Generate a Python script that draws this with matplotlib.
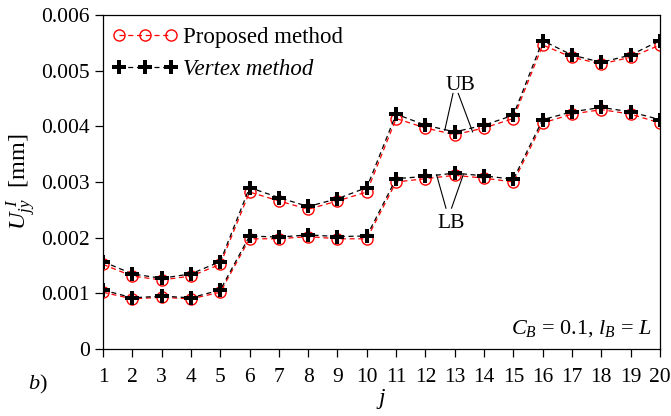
import numpy as np
import matplotlib
matplotlib.use('Agg')
import matplotlib.pyplot as plt

plt.rcParams['font.family'] = ['Liberation Serif', 'DejaVu Serif']
plt.rcParams['mathtext.fontset'] = 'custom'
plt.rcParams['mathtext.rm'] = 'Liberation Serif'
plt.rcParams['mathtext.it'] = 'Liberation Serif:italic'
plt.rcParams['font.size'] = 15.5

# data
j = np.arange(1, 21)
prop_ub = [0.00152, 0.00131, 0.00124, 0.00131, 0.00152,
           0.00282, 0.00266, 0.00251, 0.00266, 0.00282,
           0.00414, 0.00397, 0.00385, 0.00397, 0.00414,
           0.00546, 0.00524, 0.00512, 0.00524, 0.00546]
vert_ub = [0.00157, 0.00135, 0.00127, 0.00135, 0.00157,
           0.00290, 0.00272, 0.00256, 0.00270, 0.00290,
           0.00422, 0.00402, 0.00390, 0.00402, 0.00420,
           0.00554, 0.00528, 0.00515, 0.00528, 0.00554]
prop_lb = [0.00102, 0.00090, 0.00093, 0.00090, 0.00102,
           0.00198, 0.00198, 0.00202, 0.00198, 0.00198,
           0.00300, 0.00306, 0.00312, 0.00307, 0.00300,
           0.00406, 0.00422, 0.00430, 0.00422, 0.00406]
vert_lb = [0.00106, 0.00092, 0.00095, 0.00092, 0.00106,
           0.00203, 0.00201, 0.00205, 0.00202, 0.00203,
           0.00306, 0.00310, 0.00316, 0.00311, 0.00305,
           0.00412, 0.00426, 0.00434, 0.00426, 0.00412]

fig = plt.figure(figsize=(6.71, 4.16), dpi=100)
ax = fig.add_axes([0.1535, 0.161, 0.83, 0.803])

red_kw = dict(color='red', linestyle='--', linewidth=0.9, marker='o',
              markersize=8, markerfacecolor='none', markeredgewidth=1.0,
              dashes=(4, 3))
blk_kw = dict(color='black', linestyle='--', linewidth=0.9, marker='P',
              markersize=9.5, markeredgewidth=0, dashes=(4, 3))

ax.plot(j, prop_ub, label='Proposed method', **red_kw)
ax.plot(j, vert_ub, label='Vertex method', **blk_kw)
ax.plot(j, prop_lb, **red_kw)
ax.plot(j, vert_lb, **blk_kw)

ax.set_xlim(1, 20)
ax.set_ylim(0, 0.006)
ax.set_xticks(j)
ax.set_yticks([0, 0.001, 0.002, 0.003, 0.004, 0.005, 0.006])
ax.set_yticklabels(['0', '0.001', '0.002', '0.003', '0.004', '0.005', '0.006'])
ax.tick_params(direction='out', length=6, width=0.9, top=False, right=False,
               labelsize=15.5)
ax.tick_params(axis='x', pad=8)
for s in ax.spines.values():
    s.set_linewidth(0.9)

ax.set_xlabel('$j$', labelpad=0, fontsize=17)
ax.set_ylabel(r'$U_{jy}^{\ I}$  [mm]', labelpad=2, fontsize=17.5)

leg = ax.legend(loc='upper left', bbox_to_anchor=(0.0, 0.991), borderaxespad=0,
                frameon=False, numpoints=3, handlelength=2.88, handletextpad=0.22,
                labelspacing=0.45, fontsize=16.5)
leg.get_texts()[1].set_style('italic')

# UB / LB annotations
ax.text(13.18, 0.00474, 'UB', ha='center', va='center')
ax.plot([12.94, 12.66], [0.00459, 0.00393], color='black', lw=0.8)
ax.plot([13.12, 13.61], [0.00459, 0.00390], color='black', lw=0.8)
ax.text(12.89, 0.00226, 'LB', ha='center', va='center')
ax.plot([12.70, 12.38], [0.00253, 0.00313], color='black', lw=0.8)
ax.plot([12.89, 13.29], [0.00253, 0.00313], color='black', lw=0.8)

ax.text(0.985, 0.03, r'$C_B$ = 0.1, $l_B$ = $L$', transform=ax.transAxes,
        ha='right', va='bottom', fontsize=16)
fig.text(0.042, 0.048, r'$b$)', ha='left', va='bottom', fontsize=16)

fig.savefig('out.png', dpi=100)
